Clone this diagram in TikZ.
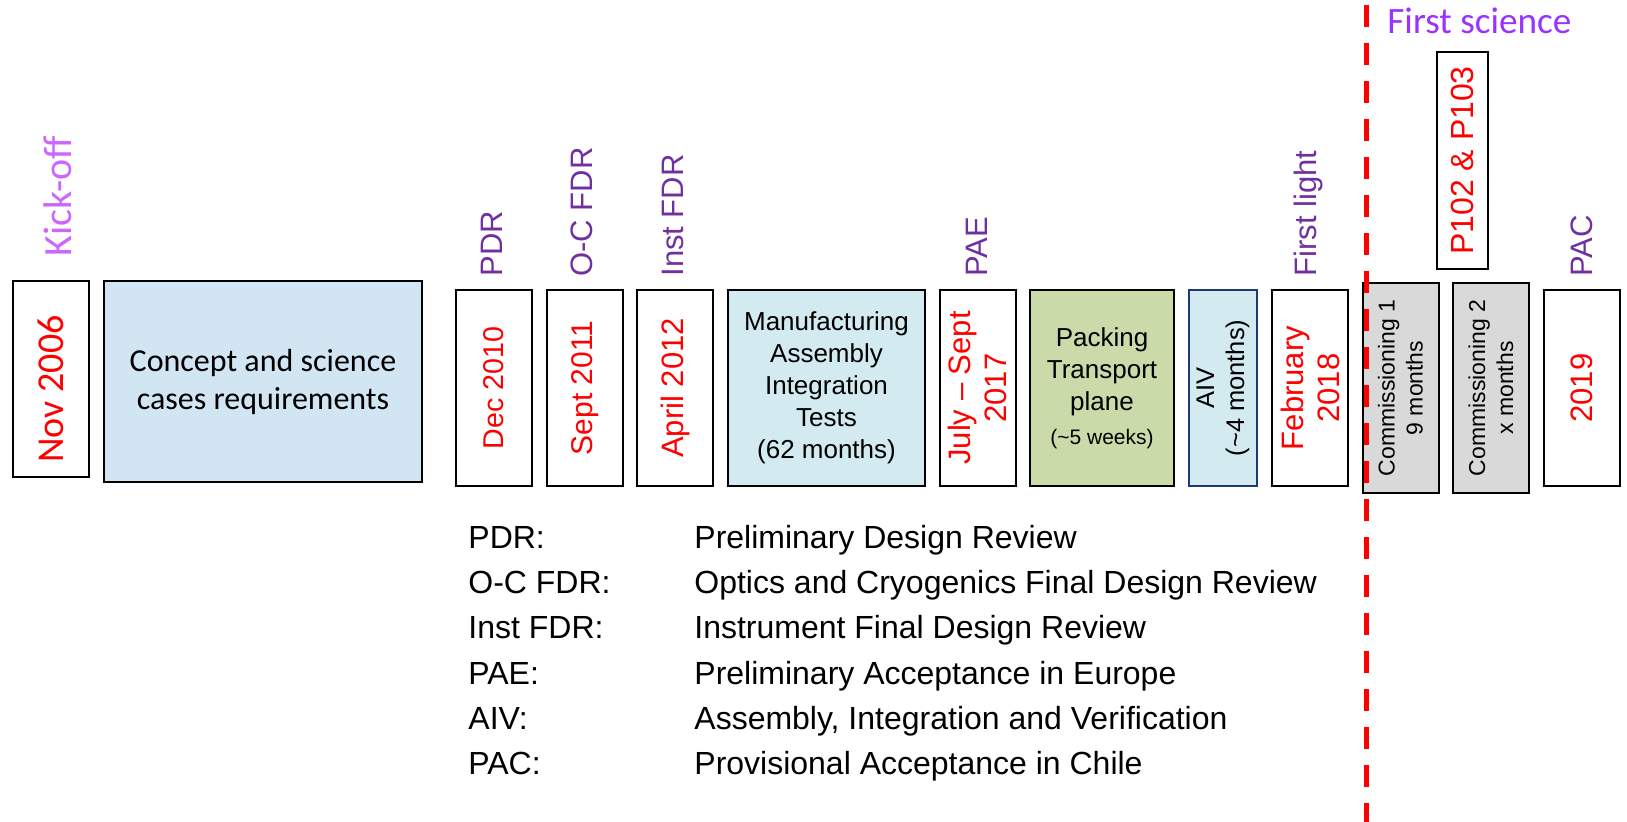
\documentclass[tikz,border=0pt]{standalone}
\usepackage{fontspec}
\setmainfont{Liberation Sans}
\newfontfamily\calibri{Carlito}

\definecolor{msviolet}{HTML}{7030A0}
\definecolor{kickviolet}{HTML}{CC66FF}
\definecolor{sciviolet}{HTML}{9933FF}
\definecolor{conceptblue}{HTML}{D1E5F3}
\definecolor{manufblue}{HTML}{D2EAF0}
\definecolor{packgreen}{HTML}{CBDAA9}
\definecolor{commgray}{HTML}{D9D9D9}
\definecolor{aivblue}{HTML}{1F3A70}

\newcommand{\fsz}[2]{\fontsize{#1}{#2}\selectfont}

\begin{document}
\begin{tikzpicture}[x=0.5pt, y=-0.5pt,
    every node/.style={inner sep=0pt},
    datebox/.style={draw, line width=1pt, rotate=90, minimum width=98pt,
      minimum height=38pt, align=center, text=red},
    phasebox/.style={draw, line width=1pt, align=center},
    milestone/.style={rotate=90, anchor=west, text=msviolet, font=\fsz{15.5}{18}},
    legend/.style={anchor=base west, font=\fsz{16}{19}}]
  \useasboundingbox (0, 0) rectangle (1627, 822);

  % boxes along the time line
  \node[datebox, font=\calibri\fsz{19}{22}] (nov) at (51, 379) {Nov 2006\hspace*{10pt}};
  \node[phasebox, fill=conceptblue, minimum width=159pt, minimum height=100.5pt,
    font=\calibri\fsz{16}{19}] (concept) at (263, 381.5) {Concept and science\\cases requirements};
  \node[datebox, font=\fsz{14.3}{17}] (dec) at (494, 388) {Dec 2010};
  \node[datebox, font=\fsz{15}{18}] (sep) at (585, 388) {Sept 2011};
  \node[datebox, font=\fsz{15.5}{18}] (apr) at (675, 388) {April 2012};
  \node[phasebox, fill=manufblue, minimum width=98.5pt, minimum height=98pt,
    font=\fsz{13}{16}] (manuf) at (826.5, 388) {Manufacturing\\Assembly\\Integration\\Tests\\(62 months)};
  \node[datebox, font=\fsz{15.5}{18}] (jul) at (977.5, 388) {July \textendash{} Sept\\2017};
  \node[phasebox, fill=packgreen, minimum width=72pt, minimum height=98pt,
    font=\fsz{13}{16}] (pack) at (1102, 388) {Packing\\Transport\\plane\\[1pt]{\fsz{10.5}{13}(\textasciitilde5 weeks)}};
  \node[datebox, draw=aivblue, fill=manufblue, minimum height=34pt, text=black,
    font=\fsz{12.75}{15}] (aiv) at (1223, 388) {AIV\\(\textasciitilde4 months)};
  \node[datebox, font=\fsz{15.5}{18}] (feb) at (1310, 388) {February\\2018};
  \node[datebox, fill=commgray, minimum width=105pt, text=black,
    font=\fsz{11.5}{14}] (comm1) at (1400.5, 388) {Commissioning 1\\9 months};
  \node[datebox, fill=commgray, minimum width=105pt, text=black,
    font=\fsz{11.5}{14}] (comm2) at (1491, 388) {Commissioning 2\\x months};
  \node[datebox, font=\fsz{15.5}{18}] (pac) at (1581.5, 388) {2019};
  \node[datebox, minimum width=108.5pt, minimum height=25.5pt,
    font=\fsz{16}{19}] (period) at (1462.5, 160.5) {P102 \& P103};

  % milestones above the boxes
  \node[milestone, text=kickviolet, font=\calibri\fsz{20}{23}] (kick) at (58, 257) {Kick-off};
  \node[milestone] (pdr) at (492, 277) {PDR};
  \node[milestone] (ocfdr) at (582, 277) {O-C FDR};
  \node[milestone] (instfdr) at (673, 277) {Inst FDR};
  \node[milestone] (pae) at (977, 277) {PAE};
  \node[milestone] (light) at (1308, 277) {First light};
  \node[milestone] (pacm) at (1582, 277) {PAC};

  % first science cut
  \node[anchor=base west, text=sciviolet, font=\calibri\fsz{18.6}{22}] (science) at (1387, 34) {First science};
  \coordinate (cuttop) at (1366, 5);
  \coordinate (cutbot) at (1366, 822);
  \draw[red, line width=2.5pt, dash pattern=on 11pt off 8pt] (cuttop) -- (cutbot);

  % acronyms
  \node[legend] (kpdr) at (468, 549) {PDR:};
  \node[legend] (dpdr) at (694, 549) {Preliminary Design Review};
  \node[legend] (kocfdr) at (468, 594) {O-C FDR:};
  \node[legend] (docfdr) at (694, 594) {Optics and Cryogenics Final Design Review};
  \node[legend] (kinst) at (468, 639) {Inst FDR:};
  \node[legend] (dinst) at (694, 639) {Instrument Final Design Review};
  \node[legend] (kpae) at (468, 684) {PAE:};
  \node[legend] (dpae) at (694, 684) {Preliminary Acceptance in Europe};
  \node[legend] (kaiv) at (468, 729) {AIV:};
  \node[legend] (daiv) at (694, 729) {Assembly, Integration and Verification};
  \node[legend] (kpac) at (468, 774) {PAC:};
  \node[legend] (dpac) at (694, 774) {Provisional Acceptance in Chile};
\end{tikzpicture}
\end{document}
